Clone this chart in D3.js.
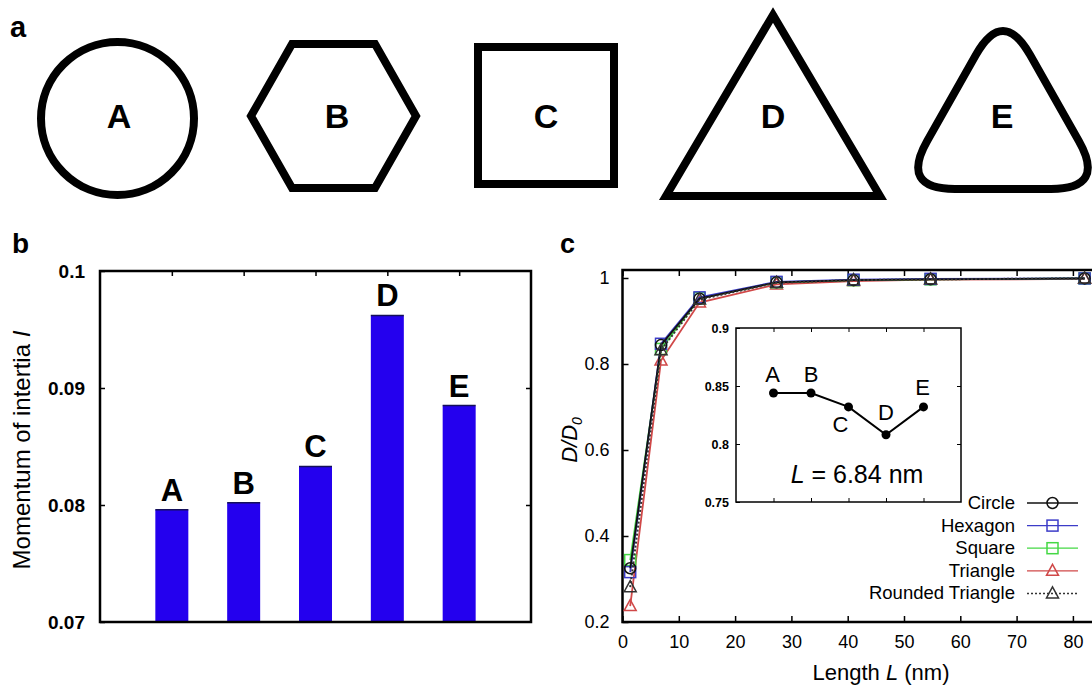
<!DOCTYPE html>
<html>
<head>
<meta charset="utf-8">
<script src="https://cdn.jsdelivr.net/npm/d3@7"></script>
<style>
  body { margin: 0; background: #fff; }
  svg { display: block; font-family: "Liberation Sans", Arial, Helvetica, sans-serif; }
</style>
</head>
<body>
<svg id="fig" width="1092" height="687"></svg>
<script>
// panel b data
const shapeLabels = ["A", "B", "C", "D", "E"]
const barValues = [0.0796, 0.0802, 0.0833, 0.0962, 0.0885]
const barTicks = [0.07, 0.08, 0.09, 0.1]

// panel c data
const lengths = [1.368, 6.84, 13.68, 27.36, 41.04, 54.72, 82.08]
const circleVals = [0.325, 0.844, 0.952, 0.990, 0.995, 0.997, 0.999]
const hexagonVals = [0.316, 0.847, 0.955, 0.991, 0.996, 0.998, 0.999]
const squareVals = [0.344, 0.835, 0.953, 0.990, 0.995, 0.997, 0.999]
const triangleVals = [0.237, 0.808, 0.943, 0.985, 0.993, 0.996, 0.998]
const roundedVals = [0.281, 0.832, 0.950, 0.989, 0.995, 0.997, 0.999]
const seriesNames = ["Circle", "Hexagon", "Square", "Triangle", "Rounded Triangle"]
const xTicksC = [0, 10, 20, 30, 40, 50, 60, 70, 80]
const yTicksC = [0.2, 0.4, 0.6, 0.8, 1]

// inset: D/D0 at L = 6.84 nm
const insetVals = [0.844, 0.844, 0.832, 0.808, 0.832]
const insetTicks = [0.75, 0.8, 0.85, 0.9]

const svg = d3.select("#fig")

function panelLabel(x, y, t, size) {
    svg.append("text").attr("x", x).attr("y", y).text(t)
        .attr("font-size", size).attr("font-weight", "bold")
}

// ---------- panel a : the five shapes ----------
panelLabel(10, 37, "a", 29)

let ga = svg.append("g").attr("fill", "none").attr("stroke", "#000").attr("stroke-width", 8)

function roundedPath(pts, d) {
    let n = pts.length, s = ""
    pts.forEach((v, i) => {
        let p = pts[(i + n - 1) % n], q = pts[(i + 1) % n]
        let l1 = Math.hypot(p[0] - v[0], p[1] - v[1]), l2 = Math.hypot(q[0] - v[0], q[1] - v[1])
        let a = [v[0] + d * (p[0] - v[0]) / l1, v[1] + d * (p[1] - v[1]) / l1]
        let b = [v[0] + d * (q[0] - v[0]) / l2, v[1] + d * (q[1] - v[1]) / l2]
        s += (i === 0 ? "M" : "L") + a + "Q" + v + " " + b
    })
    return s + "Z"
}

ga.append("ellipse").attr("cx", 117.5).attr("cy", 118.5).attr("rx", 76.5).attr("ry", 76.5)
ga.append("path").attr("d", d3.line()([[251, 116], [292, 44], [375, 44], [416, 116], [375, 188], [292, 188]]) + "Z")
    .attr("stroke-linejoin", "miter")
ga.append("rect").attr("x", 478).attr("y", 47).attr("width", 136).attr("height", 137)
ga.append("path").attr("d", d3.line()([[773, 15], [880, 196], [666, 196]]) + "Z")
    .attr("stroke-linejoin", "miter").attr("stroke-miterlimit", 10)
ga.append("path").attr("d", roundedPath([[1003, 7], [1106, 189], [900, 189]], 55))

const shapeX = [119, 337, 546, 773, 1002]
svg.append("g").selectAll("text").data(shapeLabels).join("text")
    .attr("x", (d, i) => shapeX[i]).attr("y", 128)
    .attr("text-anchor", "middle").attr("font-size", 34).attr("font-weight", "bold")
    .text(d => d)

// ---------- panel b : bar chart ----------
panelLabel(12, 253, "b", 28)

const bx = d3.scalePoint().domain(shapeLabels).range([100, 531]).padding(1)
const by = d3.scaleLinear().domain([0.07, 0.1]).range([622, 271])
const barW = 33

let gb = svg.append("g")
gb.selectAll("rect.bar").data(barValues).join("rect").attr("class", "bar")
    .attr("x", (d, i) => bx(shapeLabels[i]) - barW / 2)
    .attr("y", d => by(d))
    .attr("width", barW)
    .attr("height", d => by(0.07) - by(d))
    .attr("fill", "#2400ee")
gb.selectAll("line.bartop").data(barValues).join("line").attr("class", "bartop")
    .attr("x1", (d, i) => bx(shapeLabels[i]) - barW / 2)
    .attr("x2", (d, i) => bx(shapeLabels[i]) + barW / 2)
    .attr("y1", d => by(d)).attr("y2", d => by(d))
    .attr("stroke", "#14105a").attr("stroke-width", 1.5)
gb.selectAll("text.blab").data(barValues).join("text").attr("class", "blab")
    .attr("x", (d, i) => bx(shapeLabels[i]))
    .attr("y", d => by(d) - 9)
    .attr("text-anchor", "middle").attr("font-size", 31).attr("font-weight", "bold")
    .text((d, i) => shapeLabels[i])

let byAxis = gb.append("g").attr("transform", "translate(100,0)")
    .call(d3.axisLeft(by).tickValues(barTicks).tickFormat(d3.format("")).tickSizeInner(-5).tickSizeOuter(0).tickPadding(15))
byAxis.select(".domain").remove()
byAxis.selectAll("text").attr("font-size", 19).attr("font-weight", "bold").attr("font-family", null)
gb.append("g").attr("transform", "translate(531,0)")
    .call(d3.axisRight(by).tickValues([0.08, 0.09]).tickFormat("").tickSizeInner(-5).tickSizeOuter(0))
    .select(".domain").remove()
gb.append("g").attr("transform", "translate(0,271)")
    .call(d3.axisTop(bx).tickFormat("").tickSizeInner(-5).tickSizeOuter(0))
    .select(".domain").remove()
gb.selectAll(".tick line").attr("stroke-width", 1.5)
gb.append("rect").attr("x", 100).attr("y", 271).attr("width", 431).attr("height", 351)
    .attr("fill", "none").attr("stroke", "#000").attr("stroke-width", 2.5)

let byLab = gb.append("text").attr("transform", "translate(30,450) rotate(-90)")
    .attr("text-anchor", "middle").attr("font-size", 24)
byLab.append("tspan").text("Momentum of intertia ")
byLab.append("tspan").attr("font-style", "italic").text("I")

// ---------- panel c : line chart ----------
panelLabel(560, 253, "c", 27)

const cx = d3.scaleLinear().domain([0, 84]).range([622.5, 622.5 + 84 * 5.63])
const cy = d3.scaleLinear().domain([0.2, 1.0186]).range([622, 270])

let gc = svg.append("g")
let cxAxis = gc.append("g").attr("transform", "translate(0,622)")
    .call(d3.axisBottom(cx).tickValues(xTicksC).tickSizeInner(-6).tickSizeOuter(0).tickPadding(13))
cxAxis.select(".domain").remove()
cxAxis.selectAll("text").attr("font-size", 18).attr("font-family", null)
gc.append("g").attr("transform", "translate(0,270)")
    .call(d3.axisTop(cx).tickValues(xTicksC).tickFormat("").tickSizeInner(-6).tickSizeOuter(0))
    .select(".domain").remove()
let cyAxis = gc.append("g").attr("transform", "translate(622.5,0)")
    .call(d3.axisLeft(cy).tickValues(yTicksC).tickFormat(d3.format("")).tickSizeInner(-6).tickSizeOuter(0).tickPadding(13))
cyAxis.select(".domain").remove()
cyAxis.selectAll("text").attr("font-size", 18).attr("font-family", null)
gc.selectAll(".tick line").attr("stroke-width", 1.5)
gc.append("path").attr("d", "M1100,270H622.5V622H1100")
    .attr("fill", "none").attr("stroke", "#000").attr("stroke-width", 2.5)

let cyLab = gc.append("text").attr("transform", "translate(577,440) rotate(-90)")
    .attr("text-anchor", "middle").attr("font-size", 22).attr("font-style", "italic")
cyLab.append("tspan").text("D/D")
cyLab.append("tspan").attr("font-size", 14).attr("dy", 5).text("0")

let cxLab = gc.append("text").attr("x", 881).attr("y", 680).attr("text-anchor", "middle").attr("font-size", 22)
cxLab.append("tspan").text("Length ")
cxLab.append("tspan").attr("font-style", "italic").text("L")
cxLab.append("tspan").text(" (nm)")

const series = [
    {name: "Triangle", vals: triangleVals, color: "#d04848", marker: "tri", dash: null},
    {name: "Square", vals: squareVals, color: "#44d844", marker: "sq", dash: null},
    {name: "Hexagon", vals: hexagonVals, color: "#3c3cc8", marker: "sq", dash: null},
    {name: "Circle", vals: circleVals, color: "#111", marker: "circ", dash: null},
    {name: "Rounded Triangle", vals: roundedVals, color: "#333", marker: "tri", dash: "2,2"}
]

function drawMarker(g, kind, x, y, color) {
    if (kind === "circ") {
        g.append("circle").attr("cx", x).attr("cy", y).attr("r", 5.5)
            .attr("fill", "none").attr("stroke", color).attr("stroke-width", 1.5)
    } else if (kind === "sq") {
        g.append("rect").attr("x", x - 5.5).attr("y", y - 5.5).attr("width", 11).attr("height", 11)
            .attr("fill", "none").attr("stroke", color).attr("stroke-width", 1.5)
    } else {
        g.append("path").attr("d", `M${x},${y - 6.5}L${x + 6},${y + 4.5}L${x - 6},${y + 4.5}Z`)
            .attr("fill", "none").attr("stroke", color).attr("stroke-width", 1.5)
    }
}

const line = d3.line().x((d, i) => cx(lengths[i])).y(d => cy(d))
series.forEach(s => {
    let g = gc.append("g")
    g.append("path").attr("d", line(s.vals)).attr("fill", "none")
        .attr("stroke", s.color).attr("stroke-width", s.dash ? 2 : 1.8)
        .attr("stroke-dasharray", s.dash)
    s.vals.forEach((v, i) => drawMarker(g, s.marker, cx(lengths[i]), cy(v), s.color))
})

// legend
let gl = gc.append("g")
seriesNames.forEach((name, i) => {
    let s = series.find(t => t.name === name)
    let y = 503 + i * 22.6
    gl.append("text").attr("x", 1015).attr("y", y + 6).attr("text-anchor", "end")
        .attr("font-size", 18.5).text(name)
    gl.append("line").attr("x1", 1027).attr("x2", 1078).attr("y1", y).attr("y2", y)
        .attr("stroke", s.color).attr("stroke-width", s.dash ? 1.5 : 1.3)
        .attr("stroke-dasharray", s.dash)
    drawMarker(gl, s.marker, 1052.5, y, s.color)
})

// inset
const ix = d3.scalePoint().domain(shapeLabels).range([736, 961]).padding(1)
const iy = d3.scaleLinear().domain([0.75, 0.9]).range([502, 328])
let gi = svg.append("g")
gi.append("rect").attr("x", 736).attr("y", 328).attr("width", 225).attr("height", 174)
    .attr("fill", "#fff").attr("stroke", "#000").attr("stroke-width", 1.5)
gi.append("g").attr("transform", "translate(736,0)")
    .call(d3.axisLeft(iy).tickValues(insetTicks).tickFormat(d3.format("")).tickSizeInner(-4).tickSizeOuter(0).tickPadding(7))
    .call(g => g.select(".domain").remove())
    .selectAll("text").attr("font-size", 12.5).attr("font-weight", "bold").attr("font-family", null)
gi.append("g").attr("transform", "translate(961,0)")
    .call(d3.axisRight(iy).tickValues([0.8, 0.85]).tickFormat("").tickSizeInner(-4).tickSizeOuter(0))
    .select(".domain").remove()
gi.append("g").attr("transform", "translate(0,328)")
    .call(d3.axisTop(ix).tickFormat("").tickSizeInner(-4).tickSizeOuter(0))
    .select(".domain").remove()
gi.append("g").attr("transform", "translate(0,502)")
    .call(d3.axisBottom(ix).tickFormat("").tickSizeInner(-4).tickSizeOuter(0))
    .select(".domain").remove()

gi.append("path").attr("d", d3.line().x((d, i) => ix(shapeLabels[i])).y(d => iy(d))(insetVals))
    .attr("fill", "none").attr("stroke", "#000").attr("stroke-width", 2)
gi.selectAll("circle").data(insetVals).join("circle")
    .attr("cx", (d, i) => ix(shapeLabels[i])).attr("cy", d => iy(d)).attr("r", 4.5)
const insetLabOff = [[-1, -11], [0, -11], [-8, 25], [0, -15], [-1, -12]]
gi.selectAll("text.ilab").data(insetVals).join("text").attr("class", "ilab")
    .attr("x", (d, i) => ix(shapeLabels[i]) + insetLabOff[i][0])
    .attr("y", (d, i) => iy(d) + insetLabOff[i][1])
    .attr("text-anchor", "middle").attr("font-size", 22)
    .text((d, i) => shapeLabels[i])
let iLab = gi.append("text").attr("x", 857).attr("y", 483).attr("text-anchor", "middle").attr("font-size", 25)
iLab.append("tspan").attr("font-style", "italic").text("L")
iLab.append("tspan").text(" = 6.84 nm")
</script>
</body>
</html>
